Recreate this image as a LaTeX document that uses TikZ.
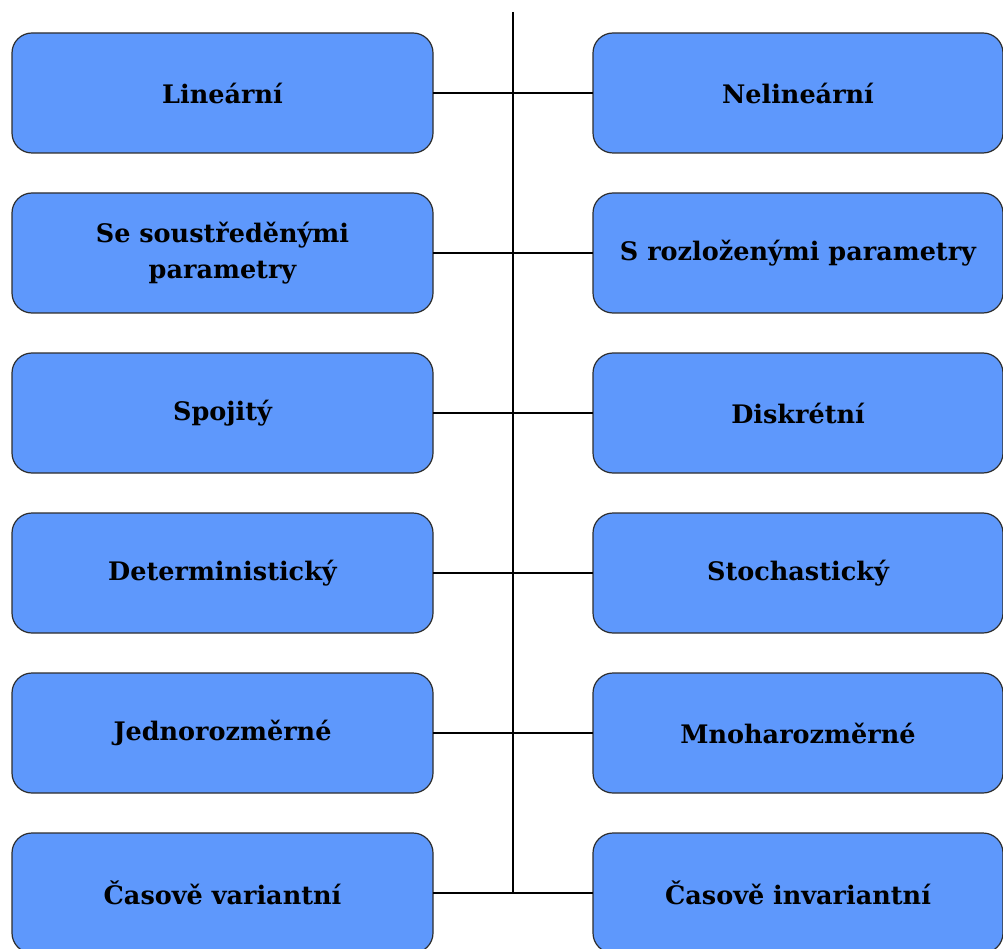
\documentclass[tikz,border=0pt]{standalone}
\usepackage{fontspec}
\setmainfont{DejaVu Serif}
\usetikzlibrary{positioning}
\definecolor{boxblue}{RGB}{94,152,252}
\definecolor{boxline}{RGB}{45,45,45}

\begin{document}
\begin{tikzpicture}[x=1pt,y=1pt,semithick,align=center,
    every node/.style={font=\fontsize{25.5}{36}\selectfont\bfseries},
    kind/.style={draw=boxline,fill=boxblue,rounded corners=20pt,line width=1.2pt,
      minimum width=421pt,minimum height=120pt,inner sep=0pt,outer sep=0pt},
    link/.style={line width=1.3pt,black}]
      \useasboundingbox (0,0) rectangle (1003,-949);
      % left column
      \node[kind] (lin) at (222.5,-93) {Lineární};
      \node[kind,below=40pt of lin] (sous) {Se soustředěnými\\parametry};
      \node[kind,below=40pt of sous] (spoj) {Spojitý};
      \node[kind,below=40pt of spoj] (det) {Deterministický};
      \node[kind,below=40pt of det] (jedn) {Jednorozměrné};
      \node[kind,below=40pt of jedn] (var) {Časově variantní};
      % right column
      \node[kind,minimum width=410pt,right=160pt of lin] (nelin) {Nelineární};
      \node[kind,minimum width=410pt,right=160pt of sous] (rozl) {S rozloženými parametry};
      \node[kind,minimum width=410pt,right=160pt of spoj] (disk) {Diskrétní};
      \node[kind,minimum width=410pt,right=160pt of det] (stoch) {Stochastický};
      \node[kind,minimum width=410pt,right=160pt of jedn] (mnoh) {Mnoharozměrné};
      \node[kind,minimum width=410pt,right=160pt of var] (invar) {Časově invariantní};

      \coordinate (spine) at (513,-12);
      \draw[link] (spine) -- (spine |- var.east);
      \path[link] (lin.east) edge (nelin.west)
             (sous.east) edge (rozl.west)
             (spoj.east) edge (disk.west)
             (det.east) edge (stoch.west)
             (jedn.east) edge (mnoh.west)
             (var.east) edge (invar.west);
    \end{tikzpicture}
\end{document}
